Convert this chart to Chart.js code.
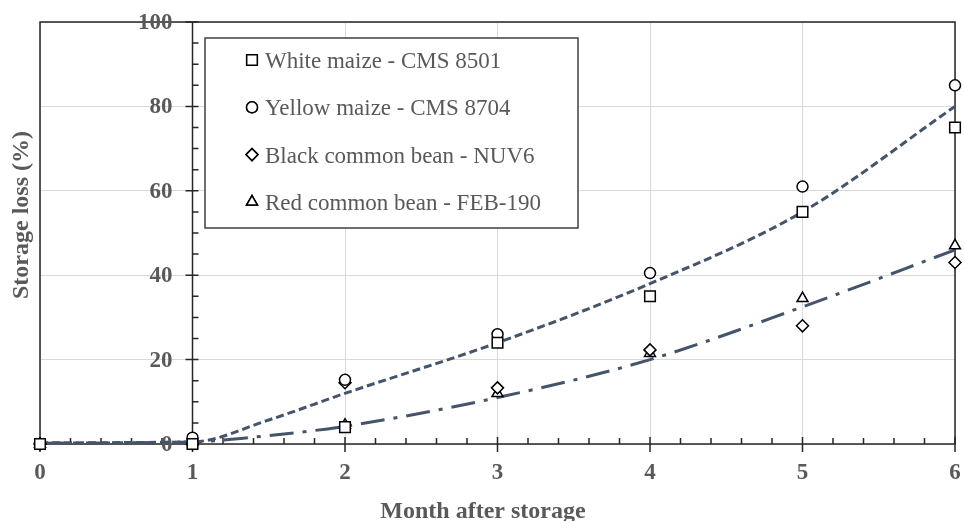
<!DOCTYPE html>
<html>
<head>
<meta charset="utf-8">
<title>Storage loss</title>
<script src="https://cdn.jsdelivr.net/npm/chart.js@4.4.1/dist/chart.umd.min.js"></script>
<style>
    body { margin: 0; background: #fff; }
    canvas { display: block; }
</style>
</head>
<body>
<canvas id="lossChart" width="964" height="521"></canvas>
<script>
// Datos
var months = [0, 1, 2, 3, 4, 5, 6];
var seriesNames = ['White maize - CMS 8501', 'Yellow maize - CMS 8704', 'Black common bean - NUV6', 'Red common bean - FEB-190'];
var whiteMaize = [0, 0, 4, 24, 35, 55, 75];
var yellowMaize = [0, 1.5, 15.2, 26, 40.5, 61, 85];
var blackBean = [0, 0, 14.5, 13.3, 22.3, 28, 43];
var redBean = [0, 0.5, 4.5, 12, 21.5, 34.5, 47];
// lineas de tendencia
var trendMonths = [0, 1, 1.5, 2, 3, 4, 5, 6];
var maizeTrend = [0.3, 0.5, 5.7, 12, 24, 38, 55, 80];
var beanTrend = [0.2, 0.5, 2, 4.2, 11, 20, 32.5, 46];
var xTickLabels = ['0', '1', '2', '3', '4', '5', '6'];
var yTickLabels = [0, 20, 40, 60, 80, 100];
var xTitle = 'Month after storage';
var yTitle = 'Storage loss (%)';

var serif = '"Liberation Serif", "Times New Roman", serif';
var textGray = '#595959';
var trendColor = '#44546A';

function toPoints(xs, values) {
    return values.map(function(v, i) {
        return { x: xs[i], y: v };
    });
}

function markerSet(label, values, style, radius) {
    return {
        label: label,
        data: toPoints(months, values),
        showLine: false,
        pointStyle: style,
        pointRadius: radius,
        pointBackgroundColor: '#ffffff',
        pointBorderColor: '#000000',
        pointBorderWidth: 1.5,
        order: 0,
        clip: false
    };
}

function trendSet(values, dash) {
    return {
        label: 'trend',
        data: toPoints(trendMonths, values),
        borderColor: trendColor,
        borderWidth: 3,
        borderDash: dash,
        pointRadius: 0,
        cubicInterpolationMode: 'monotone',
        fill: false,
        order: 5
    };
}

var markerSets = [
    markerSet(seriesNames[0], whiteMaize, 'rect', 7.5),
    markerSet(seriesNames[1], yellowMaize, 'circle', 5.5),
    markerSet(seriesNames[2], blackBean, 'rectRot', 6),
    markerSet(seriesNames[3], redBean, 'triangle', 6.3)
];

// Ejes, etiquetas y leyenda
var axesPlugin = {
    id: 'axesPlugin',
    beforeDatasetsDraw: function(chart) {
        var ctx = chart.ctx;
        var a = chart.chartArea;
        var xs = chart.scales.x;
        var ys = chart.scales.y;
        var axisX = xs.getPixelForValue(1);

        ctx.save();
        ctx.strokeStyle = '#262626';
        ctx.lineWidth = 1.5;
        ctx.strokeRect(a.left, a.top, a.right - a.left, a.bottom - a.top);

        ctx.beginPath();
        ctx.moveTo(axisX, a.top);
        ctx.lineTo(axisX, a.bottom);
        for (var v = 0; v <= 100; v += 5) {
            var py = ys.getPixelForValue(v);
            if (v % 20 === 0) {
                ctx.moveTo(axisX - 7, py);
                ctx.lineTo(axisX + 6, py);
            } else {
                ctx.moveTo(axisX, py);
                ctx.lineTo(axisX + 6, py);
            }
        }
        for (var i = 0; i <= 30; i++) {
            var px = xs.getPixelForValue(i / 5);
            if (i % 5 === 0) {
                ctx.moveTo(px, a.bottom - 7);
                ctx.lineTo(px, a.bottom + 8);
            } else {
                ctx.moveTo(px, a.bottom - 6);
                ctx.lineTo(px, a.bottom);
            }
        }
        ctx.stroke();

        ctx.fillStyle = textGray;
        ctx.font = 'bold 23px ' + serif;
        ctx.textAlign = 'right';
        ctx.textBaseline = 'middle';
        yTickLabels.forEach(function(t) {
            ctx.fillText(String(t), axisX - 20, ys.getPixelForValue(t) + 1);
        });
        ctx.textAlign = 'center';
        xTickLabels.forEach(function(t, i) {
            ctx.fillText(t, xs.getPixelForValue(months[i]), 473);
        });

        ctx.font = 'bold 24px ' + serif;
        ctx.textBaseline = 'alphabetic';
        ctx.fillText(xTitle, 483, 518);

        ctx.translate(28, 215);
        ctx.rotate(-Math.PI / 2);
        ctx.fillText(yTitle, 0, 0);
        ctx.restore();
    },
    afterDraw: function(chart) {
        var ctx = chart.ctx;
        var box = { left: 205, top: 38, right: 578, bottom: 228 };
        ctx.save();
        ctx.fillStyle = '#ffffff';
        ctx.fillRect(box.left, box.top, box.right - box.left, box.bottom - box.top);
        ctx.strokeStyle = '#404040';
        ctx.lineWidth = 1.5;
        ctx.strokeRect(box.left, box.top, box.right - box.left, box.bottom - box.top);

        ctx.font = '23px ' + serif;
        ctx.textAlign = 'left';
        ctx.textBaseline = 'alphabetic';
        markerSets.forEach(function(ds, i) {
            var baseY = 68 + i * 47.3;
            Chart.helpers.drawPoint(ctx, {
                pointStyle: ds.pointStyle,
                radius: ds.pointRadius,
                borderWidth: 1.5
            }, 252, baseY - 8);
            ctx.fillStyle = '#ffffff';
            ctx.strokeStyle = '#000000';
            ctx.lineWidth = 1.5;
            ctx.fill();
            ctx.stroke();
            ctx.fillStyle = textGray;
            ctx.fillText(ds.label, 265, baseY);
        });
        ctx.restore();
    }
};

var ctx = document.getElementById('lossChart');
new Chart(ctx, {
    type: 'line',
    data: {
        datasets: markerSets.concat([
            trendSet(maizeTrend, [8, 4]),
            trendSet(beanTrend, [24, 9, 4, 9])
        ])
    },
    options: {
        responsive: false,
        animation: false,
        devicePixelRatio: 1,
        layout: { padding: { left: 40, top: 22, right: 4, bottom: 77 } },
        plugins: {
            legend: { display: false },
            tooltip: { enabled: false }
        },
        scales: {
            x: {
                type: 'linear',
                min: 0,
                max: 6,
                ticks: { display: false, stepSize: 1 },
                grid: { color: '#d9d9d9', lineWidth: 1, drawTicks: false },
                border: { display: false }
            },
            y: {
                min: 0,
                max: 100,
                ticks: { display: false, stepSize: 20 },
                grid: { color: '#d9d9d9', lineWidth: 1, drawTicks: false },
                border: { display: false }
            }
        }
    },
    plugins: [axesPlugin]
});
</script>
</body>
</html>
